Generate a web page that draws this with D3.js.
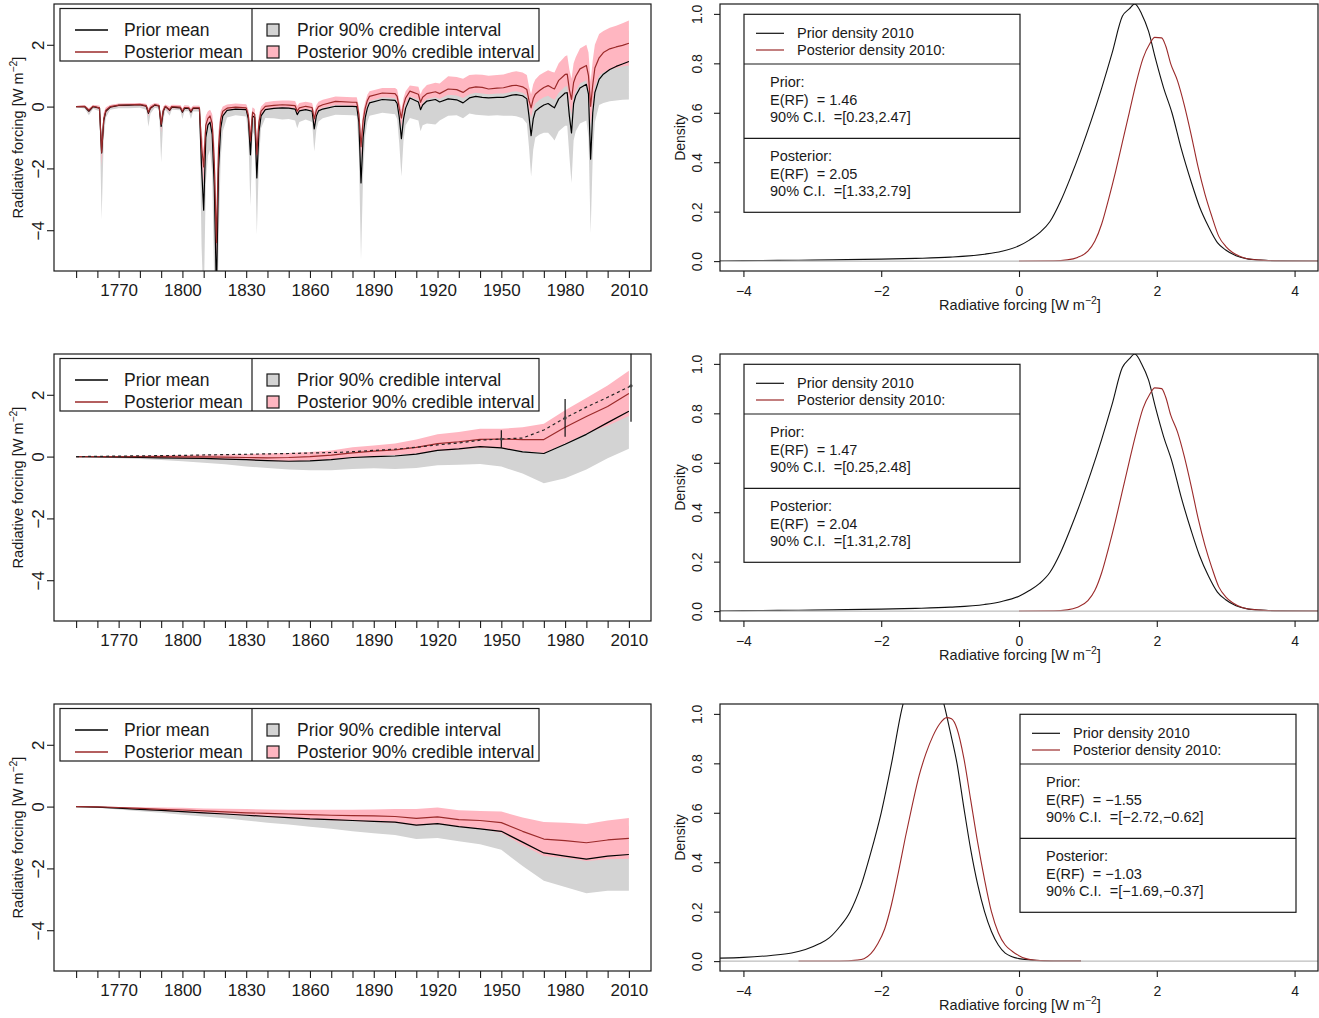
<!DOCTYPE html>
<html>
<head>
<meta charset="utf-8">
<script src="https://cdn.jsdelivr.net/npm/d3@7"></script>
<style>
  body { margin: 0; background: #fff; }
  svg { display: block; font-family: "Liberation Sans", Arial, Helvetica, sans-serif; }
</style>
</head>
<body>
<svg id="chart" width="1319" height="1018"></svg>
<script>
// ---------------- Data ----------------

// Axis ticks / labels
const decadeYears = [1750, 1760, 1770, 1780, 1790, 1800, 1810, 1820, 1830, 1840, 1850, 1860, 1870,
  1880, 1890, 1900, 1910, 1920, 1930, 1940, 1950, 1960, 1970, 1980, 1990, 2000, 2010];
const labelYears = [1770, 1800, 1830, 1860, 1890, 1920, 1950, 1980, 2010];
const rfTicks = [-4, -2, 0, 2];
const densXTicks = [-4, -2, 0, 2, 4];
const densYTicks = [0, 0.2, 0.4, 0.6, 0.8, 1.0];

// Legend texts
const seriesLegend = ["Prior mean", "Posterior mean"];
const bandLegend = ["Prior 90% credible interval", "Posterior 90% credible interval"];
const densityLegend = ["Prior density 2010", "Posterior density 2010:"];

// 2010 summaries for the three forcing components (top, middle, bottom)
const priorMean2010 = [1.46, 1.47, -1.55];
const priorCI2010 = [[0.23, 2.47], [0.25, 2.48], [-2.72, -0.62]];
const postMean2010 = [2.05, 2.04, -1.03];
const postCI2010 = [[1.33, 2.79], [1.31, 2.78], [-1.69, -0.37]];

// Panel 1: total forcing incl. volcanic eruptions (annual key points)
const volcYears = [
  1750, 1754, 1756, 1758, 1761, 1762, 1763, 1764, 1766, 1770,
  1775, 1780, 1783, 1784, 1785, 1787, 1789, 1790, 1791, 1792,
  1794, 1795, 1799, 1800, 1801, 1803, 1804, 1805, 1808, 1809,
  1810, 1811, 1812, 1813, 1814, 1815, 1816, 1817, 1818, 1819,
  1821, 1825, 1830, 1831, 1832, 1833, 1834, 1835, 1836, 1837,
  1839, 1843, 1847, 1850, 1853, 1854, 1855, 1858, 1861, 1862,
  1863, 1864, 1866, 1872, 1880, 1882, 1883, 1884, 1885, 1886,
  1887, 1888, 1894, 1900, 1901, 1902, 1903, 1904, 1905, 1907,
  1911, 1912, 1913, 1915, 1919, 1921, 1925, 1929, 1932, 1935,
  1938, 1941, 1944, 1948, 1951, 1955, 1957, 1960, 1962, 1963,
  1964, 1965, 1966, 1968, 1970, 1972, 1974, 1975, 1977, 1980,
  1981, 1982, 1983, 1984, 1985, 1987, 1990, 1991, 1992, 1993,
  1994, 1996, 1998, 2001, 2004, 2007, 2010];
const volcPriorMean = [
  0.00, 0.00, -0.15, 0.00, -0.05, -1.50, -0.45, -0.15, -0.02, 0.04,
  0.05, 0.06, 0.01, -0.22, -0.05, 0.05, 0.02, -0.64, -0.15, 0.00,
  -0.12, -0.02, -0.04, -0.18, -0.05, -0.06, -0.18, -0.06, -0.06, -1.95,
  -3.35, -1.00, -0.60, -0.50, -0.90, -2.60, -6.00, -2.00, -0.70, -0.30,
  -0.12, -0.08, -0.10, -0.40, -1.56, -0.30, -0.35, -2.31, -0.80, -0.30,
  -0.10, -0.06, -0.04, -0.05, -0.08, -0.26, -0.14, -0.10, -0.15, -0.72,
  -0.30, -0.14, -0.08, 0.01, 0.01, 0.00, -0.50, -2.47, -1.00, -0.35,
  -0.05, 0.12, 0.23, 0.20, 0.10, -0.35, -1.04, -0.40, -0.05, 0.28,
  0.15, -0.10, 0.05, 0.18, 0.23, 0.15, 0.25, 0.22, 0.12, 0.28,
  0.33, 0.30, 0.28, 0.30, 0.30, 0.37, 0.39, 0.35, 0.25, -0.30,
  -0.94, -0.40, -0.15, -0.04, 0.05, 0.10, 0.00, -0.04, 0.25, 0.44,
  0.45, -0.30, -0.85, 0.10, 0.35, 0.60, 0.72, 0.40, -1.70, -0.20,
  0.45, 0.88, 1.05, 1.20, 1.30, 1.38, 1.46];
const volcPriorLo = [
  -0.02, -0.06, -0.28, -0.07, -0.15, -3.66, -1.00, -0.35, -0.10, -0.05,
  -0.05, -0.04, -0.10, -0.65, -0.22, -0.04, -0.07, -1.80, -0.45, -0.10,
  -0.30, -0.10, -0.12, -0.40, -0.15, -0.15, -0.40, -0.16, -0.16, -4.50,
  -6.50, -2.50, -1.60, -1.40, -2.20, -5.80, -9.00, -4.50, -1.70, -0.80,
  -0.35, -0.28, -0.32, -1.00, -3.23, -0.80, -0.95, -4.15, -1.70, -0.70,
  -0.37, -0.38, -0.42, -0.40, -0.45, -0.70, -0.50, -0.42, -0.50, -1.45,
  -0.75, -0.48, -0.38, -0.26, -0.28, -0.30, -1.50, -4.96, -2.20, -0.95,
  -0.50, -0.30, -0.20, -0.25, -0.40, -1.20, -2.26, -1.10, -0.60, -0.37,
  -0.45, -0.80, -0.60, -0.55, -0.58, -0.45, -0.30, -0.28, -0.38, -0.22,
  -0.26, -0.28, -0.30, -0.28, -0.30, -0.30, -0.31, -0.38, -0.55, -1.30,
  -2.26, -1.40, -1.00, -0.90, -0.85, -0.85, -1.00, -1.10, -0.80, -0.62,
  -0.62, -1.60, -2.47, -1.10, -0.80, -0.55, -0.45, -1.00, -4.10, -1.60,
  -0.50, 0.05, 0.12, 0.17, 0.20, 0.22, 0.23];
const volcPriorHi = [
  0.02, 0.04, -0.06, 0.05, 0.03, -1.05, -0.22, -0.04, 0.05, 0.09,
  0.10, 0.11, 0.07, -0.08, 0.03, 0.10, 0.08, -0.36, -0.02, 0.06,
  -0.02, 0.05, 0.04, -0.07, 0.04, 0.03, -0.07, 0.03, 0.03, -0.85,
  -1.45, -0.32, -0.17, -0.12, -0.27, -1.25, -3.65, -0.85, -0.17, -0.02,
  0.05, 0.07, 0.06, -0.12, -0.72, -0.04, -0.10, -1.08, -0.27, -0.02,
  0.06, 0.08, 0.10, 0.10, 0.08, 0.00, 0.05, 0.08, 0.05, -0.25,
  0.00, 0.06, 0.10, 0.18, 0.20, 0.20, -0.05, -0.95, -0.30, 0.00,
  0.15, 0.25, 0.35, 0.35, 0.30, 0.00, -0.35, 0.00, 0.20, 0.45,
  0.40, 0.20, 0.32, 0.42, 0.48, 0.42, 0.55, 0.52, 0.45, 0.58,
  0.62, 0.60, 0.60, 0.62, 0.64, 0.72, 0.74, 0.74, 0.68, 0.30,
  -0.20, 0.20, 0.40, 0.50, 0.60, 0.68, 0.62, 0.60, 0.85, 1.05,
  1.08, 0.45, 0.10, 0.80, 1.00, 1.25, 1.40, 1.20, -0.50, 0.70,
  1.25, 1.70, 1.90, 2.05, 2.20, 2.35, 2.47];
const volcPostMean = [
  0.00, 0.01, -0.12, 0.01, -0.04, -1.48, -0.40, -0.12, 0.00, 0.05,
  0.06, 0.07, 0.03, -0.18, -0.03, 0.06, 0.03, -0.58, -0.12, 0.01,
  -0.10, 0.00, -0.02, -0.15, -0.03, -0.04, -0.15, -0.04, -0.04, -1.30,
  -1.95, -0.60, -0.38, -0.30, -0.55, -1.80, -4.40, -1.30, -0.40, -0.15,
  -0.05, -0.02, -0.04, -0.28, -1.10, -0.18, -0.25, -1.55, -0.50, -0.15,
  0.01, 0.04, 0.06, 0.05, 0.03, -0.15, -0.04, 0.01, -0.03, -0.40,
  -0.12, 0.00, 0.06, 0.17, 0.14, 0.14, -0.25, -1.30, -0.45, -0.05,
  0.20, 0.33, 0.44, 0.42, 0.33, -0.05, -0.37, 0.05, 0.28, 0.50,
  0.40, 0.14, 0.30, 0.42, 0.48, 0.42, 0.57, 0.55, 0.46, 0.60,
  0.64, 0.62, 0.57, 0.60, 0.61, 0.68, 0.69, 0.64, 0.55, 0.20,
  -0.04, 0.25, 0.40, 0.52, 0.62, 0.68, 0.60, 0.57, 0.85, 1.04,
  1.05, 0.55, 0.23, 0.78, 0.98, 1.22, 1.33, 1.00, 0.01, 0.70,
  1.25, 1.58, 1.75, 1.87, 1.93, 1.98, 2.05];
const volcPostLo = [
  -0.02, -0.03, -0.20, -0.03, -0.10, -1.93, -0.60, -0.22, -0.05, 0.00,
  0.01, 0.02, -0.03, -0.32, -0.10, 0.01, -0.02, -0.85, -0.22, -0.05,
  -0.18, -0.05, -0.07, -0.24, -0.08, -0.09, -0.24, -0.09, -0.09, -1.80,
  -2.50, -0.90, -0.60, -0.50, -0.85, -2.40, -5.20, -1.80, -0.65, -0.28,
  -0.12, -0.10, -0.12, -0.45, -1.50, -0.32, -0.42, -2.05, -0.75, -0.28,
  -0.08, -0.05, -0.03, -0.04, -0.06, -0.26, -0.14, -0.08, -0.12, -0.62,
  -0.26, -0.10, -0.04, 0.05, 0.02, 0.02, -0.55, -1.70, -0.75, -0.25,
  0.05, 0.18, 0.30, 0.28, 0.18, -0.30, -0.65, -0.15, 0.10, 0.33,
  0.23, -0.05, 0.12, 0.25, 0.30, 0.25, 0.38, 0.36, 0.28, 0.40,
  0.45, 0.42, 0.40, 0.42, 0.42, 0.48, 0.50, 0.45, 0.35, -0.05,
  -0.35, -0.05, 0.10, 0.22, 0.30, 0.35, 0.25, 0.22, 0.45, 0.65,
  0.66, 0.10, -0.25, 0.30, 0.50, 0.75, 0.85, 0.45, -0.60, 0.10,
  0.65, 1.00, 1.10, 1.20, 1.25, 1.30, 1.33];
const volcPostHi = [
  0.02, 0.04, -0.05, 0.05, 0.03, -1.00, -0.20, -0.02, 0.05, 0.10,
  0.11, 0.12, 0.09, -0.05, 0.05, 0.12, 0.09, -0.32, 0.00, 0.07,
  0.00, 0.06, 0.05, -0.05, 0.04, 0.03, -0.05, 0.03, 0.03, -0.80,
  -1.40, -0.30, -0.15, -0.10, -0.25, -1.20, -3.60, -0.80, -0.15, 0.00,
  0.07, 0.10, 0.08, -0.10, -0.70, -0.02, -0.08, -1.05, -0.25, 0.00,
  0.14, 0.18, 0.20, 0.20, 0.18, 0.02, 0.12, 0.16, 0.12, -0.18,
  0.05, 0.16, 0.22, 0.33, 0.30, 0.30, 0.00, -0.90, -0.15, 0.15,
  0.38, 0.50, 0.60, 0.60, 0.55, 0.20, -0.10, 0.28, 0.50, 0.68,
  0.64, 0.40, 0.55, 0.70, 0.77, 0.75, 0.98, 0.96, 0.90, 1.02,
  1.04, 1.03, 1.00, 1.02, 1.04, 1.12, 1.14, 1.10, 1.02, 0.65,
  0.40, 0.72, 0.88, 1.02, 1.10, 1.18, 1.12, 1.10, 1.40, 1.63,
  1.66, 1.20, 0.90, 1.40, 1.60, 1.88, 2.00, 1.75, 0.80, 1.50,
  2.00, 2.35, 2.45, 2.55, 2.62, 2.70, 2.79];

// Panel 2: anthropogenic forcing (decadal)
const ghgPriorMean = [0.00, -0.01, -0.02, -0.03, -0.04, -0.05, -0.06, -0.08, -0.10, -0.13,
  -0.15, -0.14, -0.10, -0.03, 0.00, 0.02, 0.08, 0.20, 0.25, 0.32,
  0.28, 0.15, 0.10, 0.40, 0.72, 1.10, 1.47];
const ghgPriorLo = [0.00, -0.03, -0.05, -0.08, -0.11, -0.15, -0.20, -0.25, -0.32, -0.37,
  -0.42, -0.44, -0.44, -0.40, -0.38, -0.40, -0.37, -0.28, -0.26, -0.24,
  -0.32, -0.55, -0.86, -0.70, -0.42, -0.05, 0.25];
const ghgPriorHi = [0.00, 0.01, 0.01, 0.02, 0.02, 0.03, 0.04, 0.05, 0.06, 0.07,
  0.08, 0.12, 0.16, 0.22, 0.28, 0.33, 0.42, 0.55, 0.62, 0.72,
  0.75, 0.70, 0.80, 1.15, 1.55, 2.00, 2.48];
const ghgPostMean = [0.00, 0.00, 0.00, 0.00, 0.00, -0.01, -0.01, -0.02, -0.03, -0.04,
  -0.03, 0.00, 0.05, 0.12, 0.18, 0.22, 0.30, 0.42, 0.48, 0.56,
  0.57, 0.55, 0.55, 0.95, 1.30, 1.62, 2.04];
const ghgPostLo = [0.00, -0.01, -0.02, -0.03, -0.04, -0.05, -0.07, -0.09, -0.11, -0.14,
  -0.15, -0.13, -0.08, -0.02, 0.02, 0.05, 0.10, 0.18, 0.22, 0.28,
  0.27, 0.19, 0.12, 0.42, 0.75, 1.00, 1.31];
const ghgPostHi = [0.00, 0.01, 0.02, 0.03, 0.04, 0.05, 0.06, 0.07, 0.08, 0.10,
  0.12, 0.15, 0.20, 0.30, 0.36, 0.42, 0.55, 0.72, 0.80, 0.90,
  0.90, 0.95, 1.06, 1.50, 1.90, 2.30, 2.78];
// Reference anthropogenic forcing estimate (dashed) and its assessed ranges
const anthroYears = [1750, 1775, 1800, 1825, 1850, 1875, 1900, 1910, 1920, 1930, 1940,
  1950, 1960, 1970, 1980, 1990, 2000, 2011];
const anthroRF = [0.00, 0.02, 0.04, 0.07, 0.10, 0.14, 0.24, 0.30, 0.38, 0.44, 0.53,
  0.57, 0.60, 0.86, 1.25, 1.60, 1.92, 2.29];
const assessYears = [1950, 1980, 2011];
const assessBest = [0.57, 1.25, 2.29];
const assessLow = [0.29, 0.64, 1.13];
const assessHigh = [0.85, 1.86, 3.33];

// Panel 3: aerosol forcing (decadal)
const aerPriorMean = [0.00, -0.02, -0.05, -0.09, -0.12, -0.16, -0.20, -0.24, -0.28, -0.32,
  -0.36, -0.40, -0.42, -0.45, -0.48, -0.50, -0.60, -0.55, -0.65, -0.72,
  -0.80, -1.15, -1.50, -1.60, -1.70, -1.60, -1.55];
const aerPriorLo = [0.00, -0.04, -0.09, -0.15, -0.20, -0.26, -0.32, -0.38, -0.45, -0.52,
  -0.58, -0.65, -0.72, -0.80, -0.86, -0.92, -1.05, -1.02, -1.12, -1.22,
  -1.40, -1.92, -2.40, -2.60, -2.80, -2.72, -2.72];
const aerPriorHi = [0.00, -0.01, -0.02, -0.04, -0.05, -0.07, -0.09, -0.11, -0.13, -0.15,
  -0.17, -0.19, -0.21, -0.23, -0.25, -0.27, -0.32, -0.28, -0.35, -0.38,
  -0.42, -0.55, -0.70, -0.70, -0.72, -0.66, -0.62];
const aerPostMean = [0.00, -0.01, -0.03, -0.06, -0.09, -0.11, -0.14, -0.17, -0.20, -0.22,
  -0.24, -0.26, -0.28, -0.29, -0.30, -0.32, -0.38, -0.33, -0.42, -0.45,
  -0.52, -0.80, -1.05, -1.10, -1.17, -1.08, -1.03];
const aerPostLo = [0.00, -0.03, -0.06, -0.10, -0.14, -0.18, -0.22, -0.26, -0.30, -0.34,
  -0.38, -0.41, -0.44, -0.47, -0.50, -0.53, -0.62, -0.57, -0.66, -0.72,
  -0.85, -1.25, -1.60, -1.66, -1.76, -1.70, -1.69];
const aerPostHi = [0.00, 0.00, -0.01, -0.02, -0.03, -0.04, -0.06, -0.07, -0.08, -0.09,
  -0.10, -0.10, -0.10, -0.10, -0.09, -0.08, -0.08, -0.03, -0.12, -0.14,
  -0.16, -0.35, -0.50, -0.52, -0.56, -0.45, -0.37];

// Densities of the 2010 forcing
const d1PriorX = [-4.34, -4.0, -3.5, -3.0, -2.5, -2.0, -1.5, -1.0, -0.5, -0.25, 0.0, 0.15, 0.3,
  0.45, 0.6, 0.75, 0.9, 1.05, 1.2, 1.35, 1.5, 1.6, 1.68, 1.78, 1.88, 1.98, 2.1, 2.22, 2.35,
  2.5, 2.62, 2.75, 2.88, 3.0, 3.15, 3.3, 3.5, 3.8, 4.34];
const d1PriorY = [0.001, 0.002, 0.003, 0.004, 0.006, 0.008, 0.011, 0.016, 0.028, 0.04, 0.062,
  0.085, 0.115, 0.16, 0.24, 0.34, 0.45, 0.57, 0.7, 0.84, 0.99, 1.02, 1.04, 1.0, 0.93, 0.82,
  0.7, 0.6, 0.46, 0.32, 0.22, 0.14, 0.075, 0.045, 0.022, 0.01, 0.004, 0.001, 0.0];
const d1PostX = [0.0, 0.5, 0.7, 0.85, 1.0, 1.1, 1.2, 1.3, 1.4, 1.5, 1.6, 1.7, 1.8, 1.9, 1.97,
  2.07, 2.13, 2.2, 2.3, 2.4, 2.5, 2.6, 2.7, 2.8, 2.9, 3.0, 3.1, 3.25, 3.45, 3.7, 4.0, 4.34];
const d1PostY = [0.0, 0.001, 0.005, 0.015, 0.04, 0.08, 0.15, 0.25, 0.36, 0.48, 0.6, 0.72, 0.82,
  0.88, 0.905, 0.903, 0.87, 0.8, 0.73, 0.63, 0.51, 0.38, 0.27, 0.18, 0.1, 0.06, 0.035, 0.015,
  0.005, 0.001, 0.0, 0.0];

const d2PriorX = [-4.34, -4.0, -3.5, -3.0, -2.5, -2.0, -1.5, -1.0, -0.5, -0.25, 0.0, 0.15, 0.3,
  0.45, 0.6, 0.75, 0.9, 1.05, 1.2, 1.35, 1.5, 1.6, 1.68, 1.78, 1.88, 1.98, 2.1, 2.22, 2.35,
  2.5, 2.62, 2.75, 2.88, 3.0, 3.15, 3.3, 3.5, 3.8, 4.34];
const d2PriorY = [0.001, 0.002, 0.003, 0.004, 0.006, 0.008, 0.011, 0.016, 0.027, 0.039, 0.06,
  0.083, 0.112, 0.157, 0.235, 0.335, 0.445, 0.565, 0.695, 0.835, 0.985, 1.02, 1.04, 1.0, 0.935,
  0.825, 0.705, 0.605, 0.465, 0.325, 0.225, 0.142, 0.077, 0.046, 0.022, 0.01, 0.004, 0.001, 0.0];
const d2PostX = [0.0, 0.5, 0.7, 0.85, 1.0, 1.1, 1.2, 1.3, 1.4, 1.5, 1.6, 1.7, 1.8, 1.9, 1.97,
  2.07, 2.13, 2.2, 2.3, 2.4, 2.5, 2.6, 2.7, 2.8, 2.9, 3.0, 3.1, 3.25, 3.45, 3.7, 4.0, 4.34];
const d2PostY = [0.0, 0.001, 0.005, 0.016, 0.042, 0.083, 0.155, 0.255, 0.365, 0.485, 0.605,
  0.72, 0.82, 0.878, 0.903, 0.9, 0.865, 0.795, 0.725, 0.625, 0.505, 0.375, 0.265, 0.175, 0.098,
  0.058, 0.034, 0.014, 0.005, 0.001, 0.0, 0.0];

const d3PriorX = [-4.34, -4.0, -3.6, -3.3, -3.1, -2.9, -2.75, -2.6, -2.45, -2.3, -2.15, -2.0,
  -1.85, -1.7, -1.6, -1.5, -1.4, -1.3, -1.2, -1.1, -1.0, -0.9, -0.8, -0.7, -0.6, -0.5, -0.4,
  -0.3, -0.2, -0.1, 0.0, 0.15, 0.3, 0.5, 0.9];
const d3PriorY = [0.012, 0.015, 0.023, 0.033, 0.047, 0.07, 0.095, 0.14, 0.2, 0.3, 0.44, 0.6,
  0.8, 1.02, 1.12, 1.17, 1.17, 1.15, 1.12, 1.05, 0.93, 0.8, 0.62, 0.45, 0.31, 0.2, 0.12,
  0.065, 0.032, 0.018, 0.01, 0.005, 0.002, 0.0, 0.0];
const d3PostX = [-3.2, -2.6, -2.35, -2.25, -2.15, -2.05, -1.95, -1.85, -1.75, -1.65, -1.55,
  -1.45, -1.35, -1.25, -1.15, -1.05, -0.98, -0.9, -0.8, -0.7, -0.6, -0.5, -0.4, -0.3, -0.2,
  -0.1, 0.0, 0.1, 0.25, 0.5, 0.9];
const d3PostY = [0.0, 0.0, 0.004, 0.01, 0.03, 0.07, 0.13, 0.23, 0.36, 0.5, 0.63, 0.75, 0.84,
  0.91, 0.96, 0.985, 0.98, 0.94, 0.82, 0.65, 0.48, 0.33, 0.2, 0.115, 0.065, 0.04, 0.022,
  0.01, 0.003, 0.0, 0.0];

// ---------------- Layout & style ----------------
const INK = "#1a1a1a";
const PRIOR_BAND = "#d3d3d3";
const POST_BAND = "#ffb6c1";
const PRIOR_LINE = "#000000";
const POST_LINE = "#9b2a2a";
const ZERO_LINE = "#bdbdbd";

const rowOffsets = [0, 350, 700];
const boxTop = 4, boxBottom = 271;
const leftX = [54, 651], rightX = [720, 1318];

const svg = d3.select("#chart");
const defs = svg.append("defs");

const xYear = d3.scaleLinear().domain([1739.6, 2020.4]).range(leftX);
const xRF = d3.scaleLinear().domain([-4.34, 4.34]).range(rightX);
const yRFScale = off => d3.scaleLinear().domain([-5.32, 3.32]).range([boxBottom + off, boxTop + off]);
const yDensScale = off => d3.scaleLinear().domain([-0.04, 1.04]).range([boxBottom + off, boxTop + off]);

const minus = s => s.replace(/-/g, "\u2212");
const fmt2 = d3.format(".2f");

function addClip(id, x0, x1, off) {
  defs.append("clipPath").attr("id", id).append("rect")
    .attr("x", x0).attr("y", boxTop + off)
    .attr("width", x1 - x0).attr("height", boxBottom - boxTop);
}

function frame(g, x0, x1, off) {
  g.append("rect").attr("x", x0).attr("y", boxTop + off)
    .attr("width", x1 - x0).attr("height", boxBottom - boxTop)
    .attr("fill", "none").attr("stroke", INK).attr("stroke-width", 1.2);
}

function styleAxis(ax, size) {
  ax.select(".domain").remove();
  ax.selectAll(".tick line").attr("stroke", INK).attr("stroke-width", 1.1);
  ax.selectAll("text").attr("fill", INK).attr("font-size", size)
    .attr("font-family", '"Liberation Sans", Arial, sans-serif');
}

// Rotate y tick labels so they read along the axis
function rotateYLabels(ax, baselineX) {
  ax.selectAll(".tick text")
    .attr("x", null).attr("dy", null)
    .attr("text-anchor", "middle")
    .attr("transform", `translate(${-baselineX},0) rotate(-90)`);
}

function forcingTitle(g, x, y, size, rotate) {
  const t = g.append("text").attr("font-size", size).attr("fill", INK)
    .attr("text-anchor", "middle");
  if (rotate) t.attr("transform", `translate(${x},${y}) rotate(-90)`);
  else t.attr("x", x).attr("y", y);
  t.append("tspan").text("Radiative forcing [W m");
  t.append("tspan").attr("font-size", size * 0.72).attr("dy", -size * 0.42).text("\u22122");
  t.append("tspan").attr("dy", size * 0.42).text("]");
}

// ---------- Time series panels ----------
function drawTimePanel(row, s) {
  const off = rowOffsets[row];
  const y = yRFScale(off);
  const g = svg.append("g");
  const clipId = "clipTS" + row;
  addClip(clipId, leftX[0], leftX[1], off);
  const plot = g.append("g").attr("clip-path", `url(#${clipId})`);
  const idx = d3.range(s.years.length);

  const band = (lo, hi) => d3.area()
    .x(i => xYear(s.years[i])).y0(i => y(lo[i])).y1(i => y(hi[i]));
  const line = v => d3.line().x(i => xYear(s.years[i])).y(i => y(v[i]));

  plot.append("path").attr("d", band(s.priorLo, s.priorHi)(idx)).attr("fill", PRIOR_BAND);
  plot.append("path").attr("d", band(s.postLo, s.postHi)(idx)).attr("fill", POST_BAND);
  plot.append("path").attr("d", line(s.priorMean)(idx))
    .attr("fill", "none").attr("stroke", PRIOR_LINE).attr("stroke-width", 1.2)
    .attr("stroke-linejoin", "round");
  plot.append("path").attr("d", line(s.postMean)(idx))
    .attr("fill", "none").attr("stroke", POST_LINE).attr("stroke-width", 1.2)
    .attr("stroke-linejoin", "round");

  if (s.extra) s.extra(g, plot, y);

  frame(g, leftX[0], leftX[1], off);

  const ax = g.append("g").attr("transform", `translate(0,${boxBottom + off})`)
    .call(d3.axisBottom(xYear).tickValues(decadeYears).tickSize(7).tickPadding(6)
      .tickFormat(d => labelYears.includes(d) ? String(d) : ""));
  styleAxis(ax, 17);

  const ay = g.append("g").attr("transform", `translate(${leftX[0]},0)`)
    .call(d3.axisLeft(y).tickValues(rfTicks).tickSize(7)
      .tickFormat(d => minus(String(d))));
  styleAxis(ay, 17);
  rotateYLabels(ay, 10);

  forcingTitle(g, 23, (boxTop + boxBottom) / 2 + off, 14.5, true);

  // legend
  const lg = g.append("g");
  const lx0 = 60, lx1 = 539, ly0 = 8.5 + off, ly1 = 61 + off, ldiv = 252;
  lg.append("rect").attr("x", lx0).attr("y", ly0).attr("width", lx1 - lx0).attr("height", ly1 - ly0)
    .attr("fill", "#fff").attr("stroke", INK).attr("stroke-width", 1.2);
  lg.append("line").attr("x1", ldiv).attr("x2", ldiv).attr("y1", ly0).attr("y2", ly1)
    .attr("stroke", INK).attr("stroke-width", 1.2);
  const rowsY = [30 + off, 52 + off];
  const lineCols = [PRIOR_LINE, POST_LINE];
  const boxCols = [PRIOR_BAND, POST_BAND];
  rowsY.forEach((ry, k) => {
    lg.append("line").attr("x1", 75).attr("x2", 108).attr("y1", ry).attr("y2", ry)
      .attr("stroke", lineCols[k]).attr("stroke-width", 1.3);
    lg.append("text").attr("x", 124).attr("y", ry + 6).attr("font-size", 17.5)
      .attr("fill", INK).text(seriesLegend[k]);
    lg.append("rect").attr("x", 267).attr("y", ry - 6).attr("width", 12).attr("height", 12)
      .attr("fill", boxCols[k]).attr("stroke", INK).attr("stroke-width", 1.2);
    lg.append("text").attr("x", 297).attr("y", ry + 6).attr("font-size", 17.5)
      .attr("fill", INK).text(bandLegend[k]);
  });
}

// ---------- Density panels ----------
function drawDensityPanel(row, px, py, qx, qy, legendX0) {
  const off = rowOffsets[row];
  const y = yDensScale(off);
  const g = svg.append("g");
  const clipId = "clipD" + row;
  addClip(clipId, rightX[0], rightX[1], off);
  const plot = g.append("g").attr("clip-path", `url(#${clipId})`);
  const curve = (xs, ys) => d3.line().curve(d3.curveMonotoneX)
    .x(i => xRF(xs[i])).y(i => y(ys[i]))(d3.range(xs.length));

  plot.append("path").attr("d", curve(px, py)).attr("fill", "none")
    .attr("stroke", "#111").attr("stroke-width", 1.1);
  plot.append("path").attr("d", curve(qx, qy)).attr("fill", "none")
    .attr("stroke", POST_LINE).attr("stroke-width", 1.1);
  plot.append("line").attr("x1", rightX[0]).attr("x2", rightX[1])
    .attr("y1", y(0)).attr("y2", y(0)).attr("stroke", ZERO_LINE).attr("stroke-width", 1.2);

  frame(g, rightX[0], rightX[1], off);

  const ax = g.append("g").attr("transform", `translate(0,${boxBottom + off})`)
    .call(d3.axisBottom(xRF).tickValues(densXTicks).tickSize(6).tickPadding(9)
      .tickFormat(d => minus(String(d))));
  styleAxis(ax, 14);

  const ay = g.append("g").attr("transform", `translate(${rightX[0]},0)`)
    .call(d3.axisLeft(y).tickValues(densYTicks).tickSize(6)
      .tickFormat(d3.format(".1f")));
  styleAxis(ay, 14);
  rotateYLabels(ay, 18);

  g.append("text").attr("font-size", 14).attr("fill", INK).attr("text-anchor", "middle")
    .attr("transform", `translate(685,${(boxTop + boxBottom) / 2 + off}) rotate(-90)`)
    .text("Density");
  forcingTitle(g, (rightX[0] + rightX[1]) / 2 + 1, 310 + off, 14.5, false);

  // legend with summary statistics
  const lg = g.append("g");
  const w = 276, top = 14.3 + off, bottom = 212.3 + off;
  lg.append("rect").attr("x", legendX0).attr("y", top).attr("width", w).attr("height", bottom - top)
    .attr("fill", "#fff").attr("stroke", INK).attr("stroke-width", 1.2);
  [64 + off, 138.3 + off].forEach(yy => lg.append("line")
    .attr("x1", legendX0).attr("x2", legendX0 + w).attr("y1", yy).attr("y2", yy)
    .attr("stroke", INK).attr("stroke-width", 1.2));
  const cols = ["#111", POST_LINE];
  [33.3, 50].forEach((ry, k) => {
    lg.append("line").attr("x1", legendX0 + 12).attr("x2", legendX0 + 40)
      .attr("y1", ry + off).attr("y2", ry + off).attr("stroke", cols[k]).attr("stroke-width", 1.2);
    lg.append("text").attr("x", legendX0 + 53).attr("y", ry + off + 5).attr("font-size", 14.5)
      .attr("fill", INK).text(densityLegend[k]);
  });
  const statLines = [
    ["Prior:", 81.7],
    [`E(RF)  = ${minus(fmt2(priorMean2010[row]))}`, 100],
    [`90% C.I.  =[${minus(fmt2(priorCI2010[row][0]))},${minus(fmt2(priorCI2010[row][1]))}]`, 116.7],
    ["Posterior:", 155.7],
    [`E(RF)  = ${minus(fmt2(postMean2010[row]))}`, 174],
    [`90% C.I.  =[${minus(fmt2(postCI2010[row][0]))},${minus(fmt2(postCI2010[row][1]))}]`, 190.7]
  ];
  statLines.forEach(([str, ry]) => {
    lg.append("text").attr("x", legendX0 + 26).attr("y", ry + off + 5).attr("font-size", 14.5)
      .attr("fill", INK).style("white-space", "pre").text(str);
  });
}

// ---------- Draw ----------
drawTimePanel(0, {
  years: volcYears, priorMean: volcPriorMean, priorLo: volcPriorLo, priorHi: volcPriorHi,
  postMean: volcPostMean, postLo: volcPostLo, postHi: volcPostHi
});

drawTimePanel(1, {
  years: decadeYears, priorMean: ghgPriorMean, priorLo: ghgPriorLo, priorHi: ghgPriorHi,
  postMean: ghgPostMean, postLo: ghgPostLo, postHi: ghgPostHi,
  extra: (g, plot, y) => {
    plot.append("path")
      .attr("d", d3.line().x(i => xYear(anthroYears[i])).y(i => y(anthroRF[i]))(d3.range(anthroYears.length)))
      .attr("fill", "none").attr("stroke", "#222").attr("stroke-width", 1.2)
      .attr("stroke-dasharray", "3,3");
    assessYears.forEach((yr, i) => {
      g.append("line").attr("x1", xYear(yr)).attr("x2", xYear(yr))
        .attr("y1", y(assessLow[i])).attr("y2", y(assessHigh[i]))
        .attr("stroke", "#111").attr("stroke-width", 1.2);
      g.append("circle").attr("cx", xYear(yr)).attr("cy", y(assessBest[i])).attr("r", 1.6)
        .attr("fill", "#444");
    });
  }
});

drawTimePanel(2, {
  years: decadeYears, priorMean: aerPriorMean, priorLo: aerPriorLo, priorHi: aerPriorHi,
  postMean: aerPostMean, postLo: aerPostLo, postHi: aerPostHi
});

drawDensityPanel(0, d1PriorX, d1PriorY, d1PostX, d1PostY, 744);
drawDensityPanel(1, d2PriorX, d2PriorY, d2PostX, d2PostY, 744);
drawDensityPanel(2, d3PriorX, d3PriorY, d3PostX, d3PostY, 1020);
</script>
</body>
</html>
